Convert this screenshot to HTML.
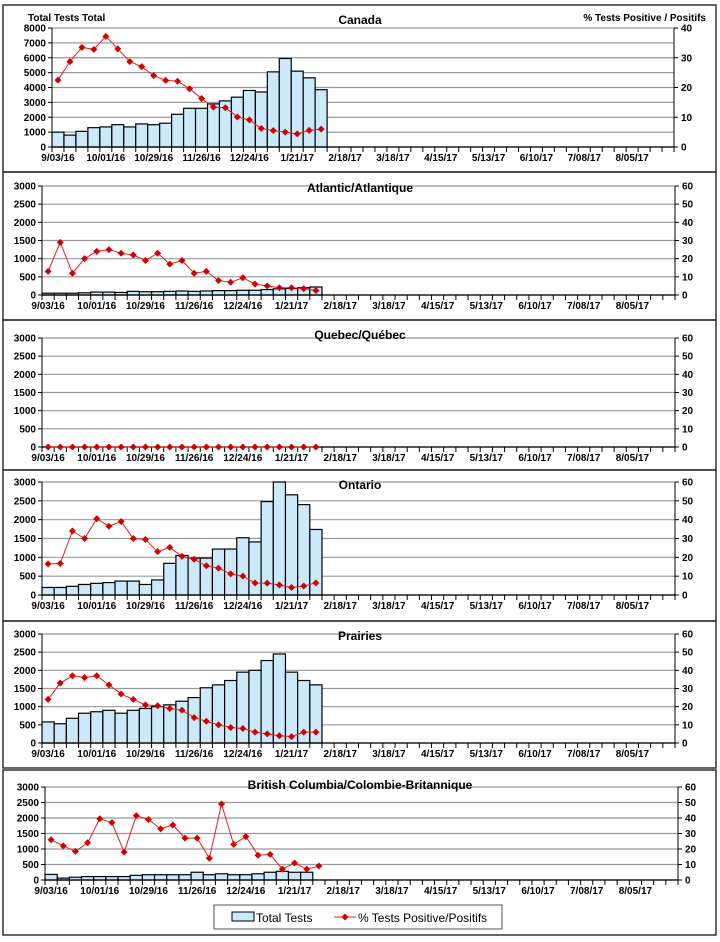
<!DOCTYPE html>
<html><head><meta charset="utf-8"><style>
body{margin:0;background:#fff;}
svg text{font-family:"Liberation Sans",Arial,sans-serif;}
</style></head><body>
<svg id="s" width="720" height="937" xmlns="http://www.w3.org/2000/svg"></svg>
<script>
const s=document.getElementById('s');
let h='';
const labels=['9/03/16','10/01/16','10/29/16','11/26/16','12/24/16','1/21/17','2/18/17','3/18/17','4/15/17','5/13/17','6/10/17','7/08/17','8/05/17'];
function panel(o){
  const {x0,x1,y0,y1,ymax,ystep,pmax,pstep,bars,pct,title,ty,box}=o;
  h+=`<rect x="${box[0]}" y="${box[1]}" width="${box[2]-box[0]}" height="${box[3]-box[1]}" fill="none" stroke="#333" stroke-width="1.5"/>`;
  const n=ymax/ystep;
  for(let i=0;i<=n;i++){const y=y1-(y1-y0)*i/n;
    h+=`<line x1="${x0}" x2="${x1}" y1="${y}" y2="${y}" stroke="#999" stroke-width="1.2"/>`;
    h+=`<line x1="${x0-4}" x2="${x0}" y1="${y}" y2="${y}" stroke="#000"/>`;
    h+=`<text x="${x0-6}" y="${y+3.5}" font-size="10" font-weight="bold" text-anchor="end">${ystep*i}</text>`;
  }
  const m=pmax/pstep;
  for(let i=0;i<=m;i++){const y=y1-(y1-y0)*i/m;
    h+=`<line x1="${x1}" x2="${x1+4}" y1="${y}" y2="${y}" stroke="#000"/>`;
    h+=`<text x="${x1+7}" y="${y+3.5}" font-size="10" font-weight="bold">${pstep*i}</text>`;
  }
  const N=52,w=(x1-x0)/N;
  bars.forEach((b,i)=>{const bh=(y1-y0)*b/ymax;if(bh>0)h+=`<rect x="${x0+i*w}" y="${y1-bh}" width="${w}" height="${bh}" fill="#cce9fa" stroke="#000" stroke-width="1.2"/>`;});
  h+=`<line x1="${x0}" x2="${x0}" y1="${y0}" y2="${y1}" stroke="#000"/><line x1="${x1}" x2="${x1}" y1="${y0}" y2="${y1}" stroke="#000"/>`;
  h+=`<line x1="${x0}" x2="${x1}" y1="${y1}" y2="${y1}" stroke="#000" stroke-width="1.2"/>`;
  for(let i=0;i<=N;i++)h+=`<line x1="${x0+i*w}" x2="${x0+i*w}" y1="${y1}" y2="${y1+5}" stroke="#000"/>`;
  labels.forEach((l,k)=>{h+=`<text x="${x0+(k*4+0.5)*w}" y="${y1+14}" font-size="10" font-weight="bold" text-anchor="middle">${l}</text>`;});
  let pts=pct.map((p,i)=>[x0+(i+0.5)*w,y1-(y1-y0)*p/pmax]);
  h+=`<polyline points="${pts.map(p=>p.join(',')).join(' ')}" fill="none" stroke="#e02020" stroke-width="1"/>`;
  pts.forEach(p=>{h+=`<path d="M${p[0]-3.5},${p[1]} L${p[0]},${p[1]-3.5} L${p[0]+3.5},${p[1]} L${p[0]},${p[1]+3.5}Z" fill="#d00000"/>`;});
  h+=`<text x="360" y="${ty}" font-size="12" font-weight="bold" text-anchor="middle">${title}</text>`;
}
panel({x0:52,x1:674,y0:28,y1:147,ymax:8000,ystep:1000,pmax:40,pstep:10,title:'Canada',ty:24,box:[3,5,716,172],
 bars:[1000,800,1050,1300,1350,1500,1350,1550,1500,1600,2200,2600,2600,2900,3100,3350,3800,3700,5050,5950,5100,4650,3850],
 pct:[22.5,28.7,33.5,32.8,37.2,33,28.7,27,24,22.4,22.1,19.6,16.3,13.4,13.2,10.1,9.1,6.2,5.5,5,4.4,5.6,6]});
h+=`<text x="28" y="21" font-size="10" font-weight="bold">Total Tests Total</text><text x="706" y="21" font-size="10" font-weight="bold" text-anchor="end">% Tests Positive / Positifs</text>`;
panel({x0:42,x1:675,y0:186,y1:295,ymax:3000,ystep:500,pmax:60,pstep:10,title:'Atlantic/Atlantique',ty:192,box:[3,172,716,320],
 bars:[50,50,50,60,80,80,70,100,90,90,100,110,100,110,120,120,130,130,150,170,180,200,220],
 pct:[13,29,12,20,24,25,23,22,19,23,17,19,12,13,8,7,9.5,6,5,4,4,3.5,2.5]});
panel({x0:42,x1:675,y0:338,y1:447,ymax:3000,ystep:500,pmax:60,pstep:10,title:'Quebec/Québec',ty:339,box:[3,320,716,470],
 bars:[],pct:Array(23).fill(0)});
panel({x0:42,x1:675,y0:482,y1:595,ymax:3000,ystep:500,pmax:60,pstep:10,title:'Ontario',ty:489,box:[3,470,716,621],
 bars:[200,200,230,280,310,330,370,370,280,400,840,1050,980,980,1220,1220,1520,1410,2480,3000,2660,2400,1740],
 pct:[16.5,16.7,34,30,40.5,36.5,39,30,29.5,23,25.3,20.5,19,15.5,14.3,11.2,10,6.4,6.3,5.3,4,4.8,6.4]});
panel({x0:42,x1:675,y0:634,y1:743,ymax:3000,ystep:500,pmax:60,pstep:10,title:'Prairies',ty:640,box:[3,621,716,768],
 bars:[580,530,680,820,860,900,820,900,950,1000,1050,1150,1250,1520,1600,1720,1950,2000,2270,2450,1950,1720,1600],
 pct:[24,33,37,36,37,32,27,24,21,20.5,19,18,14,12,10,8.5,8,6,5,4,3.5,6,6]});
panel({x0:45,x1:678,y0:787,y1:880,ymax:3000,ystep:500,pmax:60,pstep:10,title:'British Columbia/Colombie-Britannique',ty:789,box:[3,770,716,935],
 bars:[180,60,90,110,110,110,110,150,170,170,170,170,250,170,200,170,170,200,250,280,250,250],
 pct:[26,22,18.5,24,39.5,37,18,41.5,39,33,35.5,27,27,14,49,23,28,16,16.5,7,11,7,9]});
h+=`<rect x="214" y="905" width="288" height="24" fill="#fff" stroke="#555"/>`;
h+=`<rect x="232" y="912" width="22" height="9" fill="#cce9fa" stroke="#000"/><text x="256" y="922" font-size="12">Total Tests</text>`;
h+=`<line x1="334" x2="356" y1="917" y2="917" stroke="#e02020"/><path d="M341.5,917 L345,913.5 L348.5,917 L345,920.5Z" fill="#d00000"/><text x="358" y="922" font-size="12">% Tests Positive/Positifs</text>`;
s.innerHTML=h;
</script>
</body></html>
